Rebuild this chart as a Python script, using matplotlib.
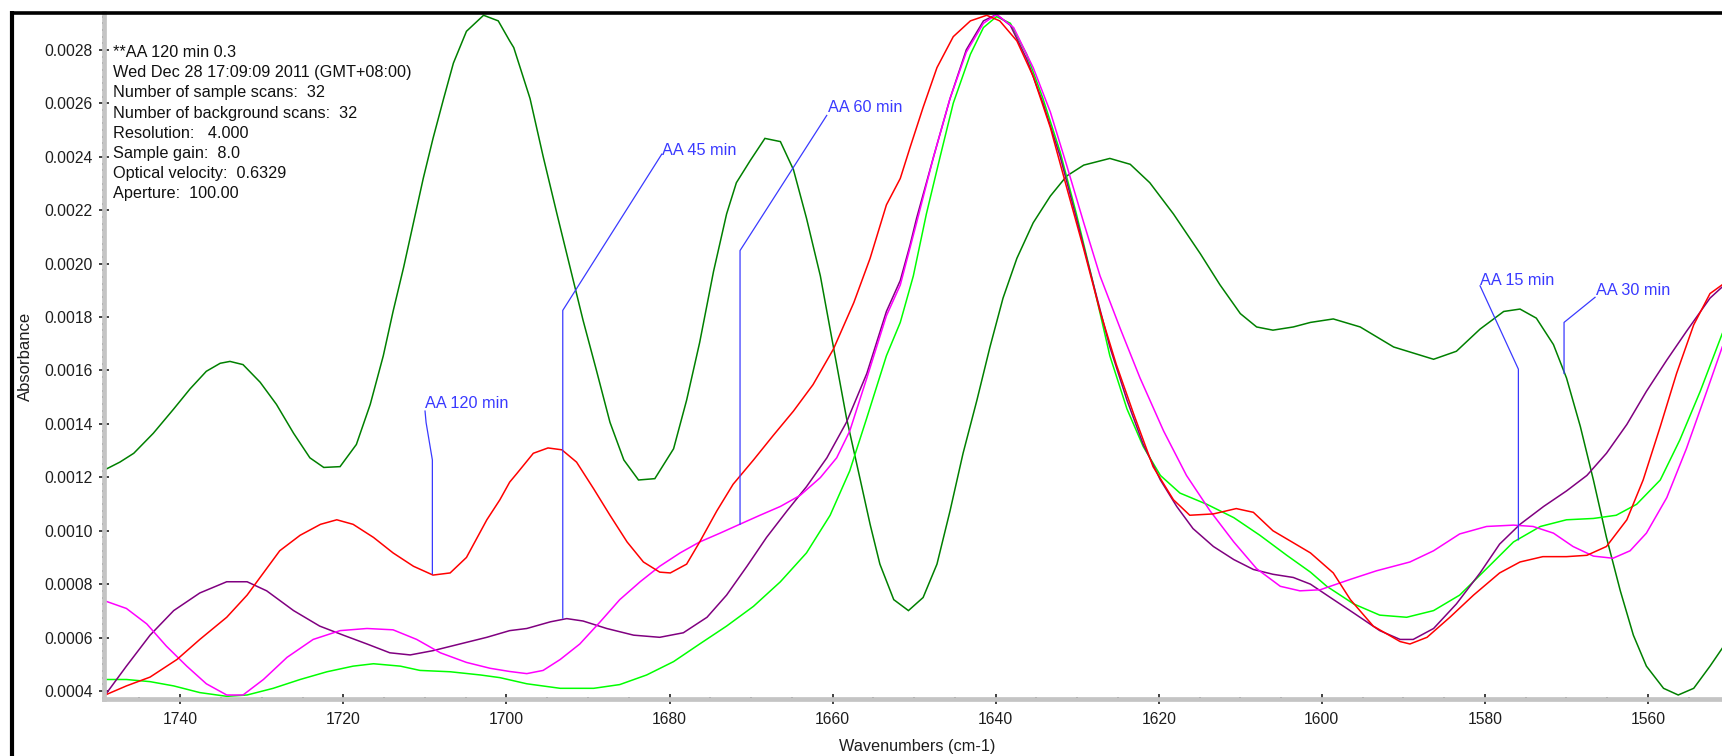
import matplotlib
matplotlib.use("Agg")
import matplotlib.pyplot as plt
from matplotlib.ticker import MultipleLocator, FormatStrFormatter
from matplotlib.lines import Line2D

plt.rcParams['font.family'] = ['Liberation Sans', 'DejaVu Sans']

# ---------------- data (wavenumber cm-1, absorbance) ----------------
wn_30 = [1749.2, 1747.4, 1745.7, 1743.3, 1740.8, 1738.8, 1736.8, 1735.1, 1733.9, 1732.3,
         1730.2, 1728.2, 1726.1, 1724.1, 1722.4, 1720.4, 1718.4, 1716.7, 1715.1, 1713.9,
         1712.6, 1711.4, 1710.2, 1709.0, 1707.7, 1706.5, 1704.9, 1702.8, 1701.0, 1699.6,
         1699.1, 1697.1, 1695.5, 1693.8, 1692.2, 1690.6, 1689.0, 1687.3, 1685.6, 1683.8,
         1681.8, 1679.5, 1677.9, 1676.3, 1674.6, 1673.0, 1671.8, 1670.1, 1668.3, 1666.4,
         1664.8, 1663.2, 1661.5, 1659.9, 1658.3, 1656.6, 1655.4, 1654.2, 1652.5, 1650.7,
         1648.9, 1647.2, 1645.6, 1644.0, 1642.3, 1640.7, 1639.1, 1637.4, 1635.4, 1633.3,
         1631.3, 1629.2, 1626.0, 1623.5, 1621.1, 1618.2, 1614.9, 1612.5, 1610.0, 1608.0,
         1606.0, 1603.5, 1601.4, 1598.6, 1595.3, 1591.2, 1586.3, 1583.5, 1580.6, 1577.7,
         1575.7, 1573.7, 1571.6, 1570.0, 1568.3, 1566.7, 1565.1, 1563.4, 1561.8, 1560.2,
         1558.1, 1556.3, 1554.4, 1552.4, 1550.9]
ab_30 = [12.29e-4, 12.57e-4, 12.90e-4, 13.65e-4, 14.56e-4, 15.31e-4, 15.97e-4, 16.27e-4, 16.34e-4, 16.22e-4,
         15.56e-4, 14.73e-4, 13.65e-4, 12.73e-4, 12.37e-4, 12.40e-4, 13.23e-4, 14.73e-4, 16.55e-4, 18.21e-4,
         19.87e-4, 21.53e-4, 23.19e-4, 24.69e-4, 26.18e-4, 27.51e-4, 28.70e-4, 29.30e-4, 29.09e-4, 28.34e-4,
         28.09e-4, 26.18e-4, 24.02e-4, 21.86e-4, 19.87e-4, 17.88e-4, 16.05e-4, 14.06e-4, 12.65e-4, 11.90e-4,
         11.95e-4, 13.07e-4, 14.89e-4, 17.05e-4, 19.71e-4, 21.86e-4, 23.03e-4, 23.86e-4, 24.69e-4, 24.57e-4,
         23.52e-4, 21.70e-4, 19.54e-4, 16.88e-4, 14.23e-4, 11.90e-4, 10.24e-4, 8.75e-4, 7.42e-4, 7.01e-4,
         7.50e-4, 8.75e-4, 10.74e-4, 12.90e-4, 14.89e-4, 16.88e-4, 18.71e-4, 20.20e-4, 21.53e-4, 22.53e-4,
         23.28e-4, 23.69e-4, 23.94e-4, 23.72e-4, 23.03e-4, 21.86e-4, 20.37e-4, 19.21e-4, 18.13e-4, 17.63e-4,
         17.51e-4, 17.63e-4, 17.80e-4, 17.93e-4, 17.63e-4, 16.88e-4, 16.42e-4, 16.72e-4, 17.55e-4, 18.21e-4,
         18.30e-4, 17.96e-4, 16.97e-4, 15.72e-4, 13.90e-4, 11.90e-4, 9.75e-4, 7.75e-4, 6.09e-4, 4.93e-4,
         4.10e-4, 3.85e-4, 4.10e-4, 4.93e-4, 5.60e-4]

wn_120 = [1749.2, 1746.6, 1743.7, 1740.4, 1737.6, 1734.3, 1731.8, 1729.8, 1727.8, 1725.3,
          1722.8, 1720.8, 1718.8, 1716.3, 1713.9, 1711.4, 1709.0, 1706.9, 1704.9, 1702.4,
          1700.8, 1699.6, 1698.7, 1696.7, 1694.9, 1693.2, 1691.4, 1689.3, 1687.3, 1685.2,
          1683.2, 1681.2, 1679.9, 1677.9, 1676.3, 1674.2, 1672.2, 1669.7, 1667.3, 1664.8,
          1662.4, 1659.9, 1657.4, 1655.4, 1653.4, 1651.7, 1650.5, 1648.9, 1647.2, 1645.2,
          1643.1, 1641.1, 1639.5, 1637.4, 1635.4, 1633.3, 1631.3, 1629.2, 1627.2, 1625.2,
          1623.1, 1620.7, 1618.2, 1616.2, 1613.3, 1610.5, 1608.4, 1606.0, 1603.5, 1601.4,
          1598.6, 1596.5, 1593.7, 1590.4, 1589.2, 1587.1, 1584.3, 1581.4, 1578.2, 1575.7,
          1572.9, 1570.0, 1567.5, 1565.1, 1562.6, 1560.6, 1558.5, 1556.5, 1554.4, 1552.4,
          1550.9]
ab_120 = [3.85e-4, 4.19e-4, 4.52e-4, 5.18e-4, 5.93e-4, 6.76e-4, 7.59e-4, 8.42e-4, 9.25e-4, 9.83e-4,
          10.24e-4, 10.41e-4, 10.24e-4, 9.75e-4, 9.17e-4, 8.67e-4, 8.34e-4, 8.42e-4, 9.00e-4, 10.41e-4,
          11.16e-4, 11.82e-4, 12.15e-4, 12.90e-4, 13.10e-4, 13.03e-4, 12.57e-4, 11.57e-4, 10.58e-4, 9.58e-4,
          8.83e-4, 8.45e-4, 8.42e-4, 8.75e-4, 9.58e-4, 10.74e-4, 11.74e-4, 12.65e-4, 13.56e-4, 14.48e-4,
          15.47e-4, 16.80e-4, 18.54e-4, 20.20e-4, 22.20e-4, 23.19e-4, 24.35e-4, 25.85e-4, 27.34e-4, 28.50e-4,
          29.09e-4, 29.30e-4, 29.09e-4, 28.34e-4, 27.01e-4, 25.10e-4, 22.86e-4, 20.54e-4, 18.21e-4, 16.22e-4,
          14.39e-4, 12.40e-4, 11.16e-4, 10.58e-4, 10.63e-4, 10.83e-4, 10.69e-4, 10.00e-4, 9.55e-4, 9.17e-4,
          8.42e-4, 7.42e-4, 6.43e-4, 5.85e-4, 5.76e-4, 6.01e-4, 6.76e-4, 7.59e-4, 8.42e-4, 8.83e-4,
          9.03e-4, 9.03e-4, 9.08e-4, 9.41e-4, 10.41e-4, 11.90e-4, 13.90e-4, 15.89e-4, 17.71e-4, 18.88e-4,
          19.21e-4]

wn_45 = [1749.2, 1746.6, 1743.7, 1740.8, 1737.6, 1734.3, 1731.8, 1729.4, 1726.1, 1722.9,
         1720.0, 1717.1, 1714.3, 1711.8, 1709.0, 1705.7, 1702.4, 1699.6, 1697.5, 1694.6,
         1692.6, 1690.6, 1687.7, 1684.4, 1681.2, 1678.3, 1675.4, 1673.0, 1670.5, 1668.1,
         1665.6, 1663.2, 1660.7, 1658.3, 1655.8, 1653.4, 1651.7, 1650.5, 1649.7, 1647.6,
         1645.6, 1643.6, 1641.5, 1639.9, 1638.2, 1636.2, 1634.2, 1632.1, 1630.1, 1628.0,
         1626.0, 1623.9, 1621.9, 1619.8, 1617.8, 1615.8, 1613.3, 1610.8, 1608.4, 1606.0,
         1603.5, 1601.4, 1599.4, 1596.1, 1592.9, 1590.4, 1588.8, 1586.3, 1583.5, 1580.6,
         1578.2, 1575.7, 1572.8, 1570.0, 1567.5, 1565.1, 1562.6, 1560.2, 1557.7, 1555.3,
         1552.4, 1550.9]
ab_45 = [3.85e-4, 4.93e-4, 6.09e-4, 7.01e-4, 7.67e-4, 8.09e-4, 8.09e-4, 7.75e-4, 7.01e-4, 6.43e-4,
         6.09e-4, 5.76e-4, 5.43e-4, 5.35e-4, 5.51e-4, 5.76e-4, 6.01e-4, 6.26e-4, 6.34e-4, 6.59e-4,
         6.71e-4, 6.62e-4, 6.34e-4, 6.09e-4, 6.01e-4, 6.18e-4, 6.76e-4, 7.59e-4, 8.67e-4, 9.75e-4,
         10.74e-4, 11.65e-4, 12.73e-4, 14.06e-4, 15.89e-4, 18.21e-4, 19.37e-4, 20.70e-4, 21.70e-4, 24.02e-4,
         26.18e-4, 28.01e-4, 29.09e-4, 29.33e-4, 28.92e-4, 27.67e-4, 26.01e-4, 24.02e-4, 21.70e-4, 19.21e-4,
         16.88e-4, 14.89e-4, 13.23e-4, 11.90e-4, 10.91e-4, 10.08e-4, 9.41e-4, 8.92e-4, 8.55e-4, 8.37e-4,
         8.25e-4, 8.00e-4, 7.59e-4, 6.92e-4, 6.26e-4, 5.93e-4, 5.93e-4, 6.34e-4, 7.26e-4, 8.42e-4,
         9.50e-4, 10.24e-4, 10.91e-4, 11.49e-4, 12.07e-4, 12.90e-4, 13.98e-4, 15.22e-4, 16.39e-4, 17.46e-4,
         18.71e-4, 19.13e-4]

wn_15 = [1749.2, 1746.6, 1743.7, 1740.8, 1737.6, 1734.3, 1731.8, 1728.6, 1725.3, 1722.0,
         1718.8, 1716.3, 1713.0, 1710.6, 1706.9, 1703.2, 1700.8, 1697.5, 1693.4, 1689.3,
         1686.1, 1682.8, 1679.5, 1676.3, 1673.0, 1669.7, 1666.4, 1663.2, 1660.3, 1657.9,
         1655.8, 1653.4, 1651.7, 1650.1, 1648.5, 1646.8, 1645.2, 1643.1, 1641.5, 1639.9,
         1638.2, 1636.2, 1634.2, 1632.1, 1630.1, 1628.0, 1626.0, 1623.9, 1621.9, 1619.8,
         1617.4, 1614.1, 1610.8, 1607.6, 1604.3, 1601.4, 1599.4, 1596.1, 1592.9, 1589.6,
         1586.3, 1583.1, 1579.8, 1576.5, 1573.2, 1570.0, 1566.7, 1563.9, 1561.4, 1558.5,
         1556.1, 1553.6, 1550.9]
ab_15 = [4.43e-4, 4.43e-4, 4.35e-4, 4.19e-4, 3.94e-4, 3.80e-4, 3.85e-4, 4.10e-4, 4.43e-4, 4.72e-4,
         4.93e-4, 5.02e-4, 4.93e-4, 4.77e-4, 4.72e-4, 4.60e-4, 4.50e-4, 4.27e-4, 4.10e-4, 4.10e-4,
         4.24e-4, 4.60e-4, 5.10e-4, 5.76e-4, 6.43e-4, 7.17e-4, 8.09e-4, 9.17e-4, 10.58e-4, 12.24e-4,
         14.23e-4, 16.55e-4, 17.80e-4, 19.54e-4, 21.86e-4, 24.02e-4, 26.01e-4, 27.84e-4, 28.84e-4, 29.25e-4,
         29.00e-4, 27.84e-4, 26.18e-4, 24.19e-4, 21.86e-4, 19.21e-4, 16.55e-4, 14.56e-4, 13.15e-4, 12.07e-4,
         11.41e-4, 10.99e-4, 10.49e-4, 9.83e-4, 9.08e-4, 8.45e-4, 7.92e-4, 7.26e-4, 6.84e-4, 6.76e-4,
         7.01e-4, 7.59e-4, 8.58e-4, 9.58e-4, 10.16e-4, 10.41e-4, 10.46e-4, 10.58e-4, 10.99e-4, 11.90e-4,
         13.40e-4, 15.22e-4, 17.38e-4]

wn_60 = [1749.2, 1746.6, 1744.1, 1741.7, 1739.2, 1736.8, 1734.3, 1732.3, 1729.8, 1726.9,
         1723.7, 1720.4, 1717.1, 1713.9, 1711.0, 1708.1, 1704.9, 1702.0, 1699.6, 1697.5,
         1695.5, 1693.4, 1691.0, 1688.5, 1686.1, 1683.6, 1681.2, 1678.7, 1676.3, 1673.8,
         1671.4, 1668.9, 1666.4, 1664.0, 1661.5, 1659.5, 1657.9, 1655.8, 1653.4, 1651.7,
         1649.7, 1647.6, 1645.6, 1643.6, 1641.5, 1639.9, 1637.8, 1635.4, 1633.3, 1631.3,
         1629.2, 1627.2, 1624.7, 1622.3, 1619.4, 1616.6, 1613.7, 1610.8, 1608.0, 1605.1,
         1602.7, 1600.2, 1596.6, 1593.3, 1589.2, 1586.3, 1583.1, 1579.8, 1576.5, 1574.1,
         1571.6, 1569.2, 1566.7, 1564.3, 1562.2, 1560.2, 1557.7, 1555.3, 1552.8, 1550.9]
ab_60 = [7.37e-4, 7.09e-4, 6.51e-4, 5.68e-4, 4.93e-4, 4.27e-4, 3.85e-4, 3.85e-4, 4.43e-4, 5.26e-4,
         5.93e-4, 6.26e-4, 6.34e-4, 6.29e-4, 5.93e-4, 5.43e-4, 5.07e-4, 4.85e-4, 4.73e-4, 4.65e-4,
         4.77e-4, 5.18e-4, 5.76e-4, 6.59e-4, 7.42e-4, 8.09e-4, 8.67e-4, 9.17e-4, 9.58e-4, 9.91e-4,
         10.24e-4, 10.58e-4, 10.91e-4, 11.32e-4, 11.99e-4, 12.73e-4, 13.73e-4, 15.72e-4, 18.05e-4, 19.20e-4,
         21.53e-4, 24.02e-4, 26.18e-4, 27.92e-4, 29.00e-4, 29.33e-4, 28.84e-4, 27.34e-4, 25.68e-4, 23.69e-4,
         21.53e-4, 19.54e-4, 17.55e-4, 15.72e-4, 13.73e-4, 12.07e-4, 10.74e-4, 9.58e-4, 8.58e-4, 7.92e-4,
         7.75e-4, 7.79e-4, 8.17e-4, 8.50e-4, 8.83e-4, 9.25e-4, 9.88e-4, 10.16e-4, 10.21e-4, 10.16e-4,
         9.91e-4, 9.41e-4, 9.05e-4, 8.97e-4, 9.25e-4, 9.91e-4, 11.24e-4, 13.07e-4, 15.22e-4, 16.88e-4]

series_colors = {'15': '#00ff00', '30': '#008000', '45': '#800080', '60': '#ff00ff', '120': '#ff0000'}

info_lines = ["**AA 120 min 0.3",
              "Wed Dec 28 17:09:09 2011 (GMT+08:00)",
              "Number of sample scans:  32",
              "Number of background scans:  32",
              "Resolution:   4.000",
              "Sample gain:  8.0",
              "Optical velocity:  0.6329",
              "Aperture:  100.00"]

# ---------------- figure ----------------
W, H = 1722, 756
fig = plt.figure(figsize=(W / 100, H / 100), dpi=100)
fig.patch.set_facecolor('white')
ax_l, ax_b, ax_t = 103.5, 699.0, 13.0
ax = fig.add_axes([ax_l / W, (H - ax_b) / H, (W - ax_l) / W, (ax_b - ax_t) / H])

for wn, ab, key in [(wn_30, ab_30, '30'), (wn_15, ab_15, '15'), (wn_45, ab_45, '45'),
                    (wn_60, ab_60, '60'), (wn_120, ab_120, '120')]:
    ax.plot(wn, ab, color=series_colors[key], lw=1.1, solid_joinstyle='miter')

ax.set_xlim(1749.41, 1550.93)
ax.set_ylim(0.00037, 0.0029385)

ax.xaxis.set_major_locator(MultipleLocator(20))
ax.xaxis.set_minor_locator(MultipleLocator(5))
ax.yaxis.set_major_locator(MultipleLocator(0.0002))
ax.yaxis.set_minor_locator(MultipleLocator(0.000025))
ax.xaxis.set_major_formatter(FormatStrFormatter('%.0f'))
ax.yaxis.set_major_formatter(FormatStrFormatter('%.4f'))

for s in ['top', 'right']:
    ax.spines[s].set_visible(False)
for s in ['left', 'bottom']:
    ax.spines[s].set_color('#c4c4c4')
    ax.spines[s].set_linewidth(3.4)

ax.tick_params(which='major', direction='inout', length=6.5, width=1.2, color='#202020',
               labelsize=11.3, labelcolor='#1e1e1e')
ax.tick_params(which='minor', direction='inout', length=3.0, width=1.2, color='#202020')
ax.tick_params(axis='y', which='major', pad=4.5)
ax.tick_params(axis='x', which='major', pad=6)

ax.set_ylabel('Absorbance', fontsize=12, color='#1e1e1e', va='center')
ax.yaxis.set_label_coords((25.5 - ax_l) / (W - ax_l), 0.5)
ax.set_xlabel('Wavenumbers (cm-1)', fontsize=11.7, color='#1e1e1e', va='center')
ax.xaxis.set_label_coords((917.5 - ax_l) / (W - ax_l), (ax_b - 746.7) / (ax_b - ax_t))

# info text block
for i, line in enumerate(info_lines):
    fig.text(113 / W, 1 - (57.3 + 20.1 * i) / H, line, fontsize=11.7, color='#111111',
             ha='left', va='baseline')

# annotations (label position in data coordinates, leader polyline)
ann_color = '#3a3aff'
annotations = [
    ("AA 120 min", (1709.98, 0.0014577),
     [(1709.98, 0.001448), (1709.85, 0.001405), (1709.08, 0.001265), (1709.08, 0.000839)]),
    ("AA 45 min", (1680.87, 0.0024054),
     [(1680.95, 0.00241), (1693.09, 0.001825), (1693.09, 0.000673)]),
    ("AA 60 min", (1660.52, 0.0025664),
     [(1660.72, 0.002555), (1671.35, 0.002049), (1671.35, 0.001024)]),
    ("AA 15 min", (1580.6, 0.0019205),
     [(1580.6, 0.001917), (1575.9, 0.001605), (1575.9, 0.000966)]),
    ("AA 30 min", (1566.44, 0.0018827),
     [(1566.5, 0.001874), (1570.3, 0.00178), (1570.3, 0.001589)]),
]
for label, (tx, ty), pts in annotations:
    xs = [p[0] for p in pts]
    ys = [p[1] for p in pts]
    ax.plot(xs, ys, color=ann_color, lw=0.9)
    ax.text(tx, ty, label, color=ann_color, fontsize=11.7, ha='left', va='baseline')

# outer black frame (left and top) of the screenshot window
fig.add_artist(Line2D([12 / W, 12 / W], [0, 1 - 11 / H], transform=fig.transFigure,
                      color='black', lw=3.0, solid_capstyle='butt'))
fig.add_artist(Line2D([10 / W, 1], [1 - 13 / H, 1 - 13 / H], transform=fig.transFigure,
                      color='black', lw=2.6, solid_capstyle='butt'))

fig.savefig('out.png', dpi=100, facecolor='white')
